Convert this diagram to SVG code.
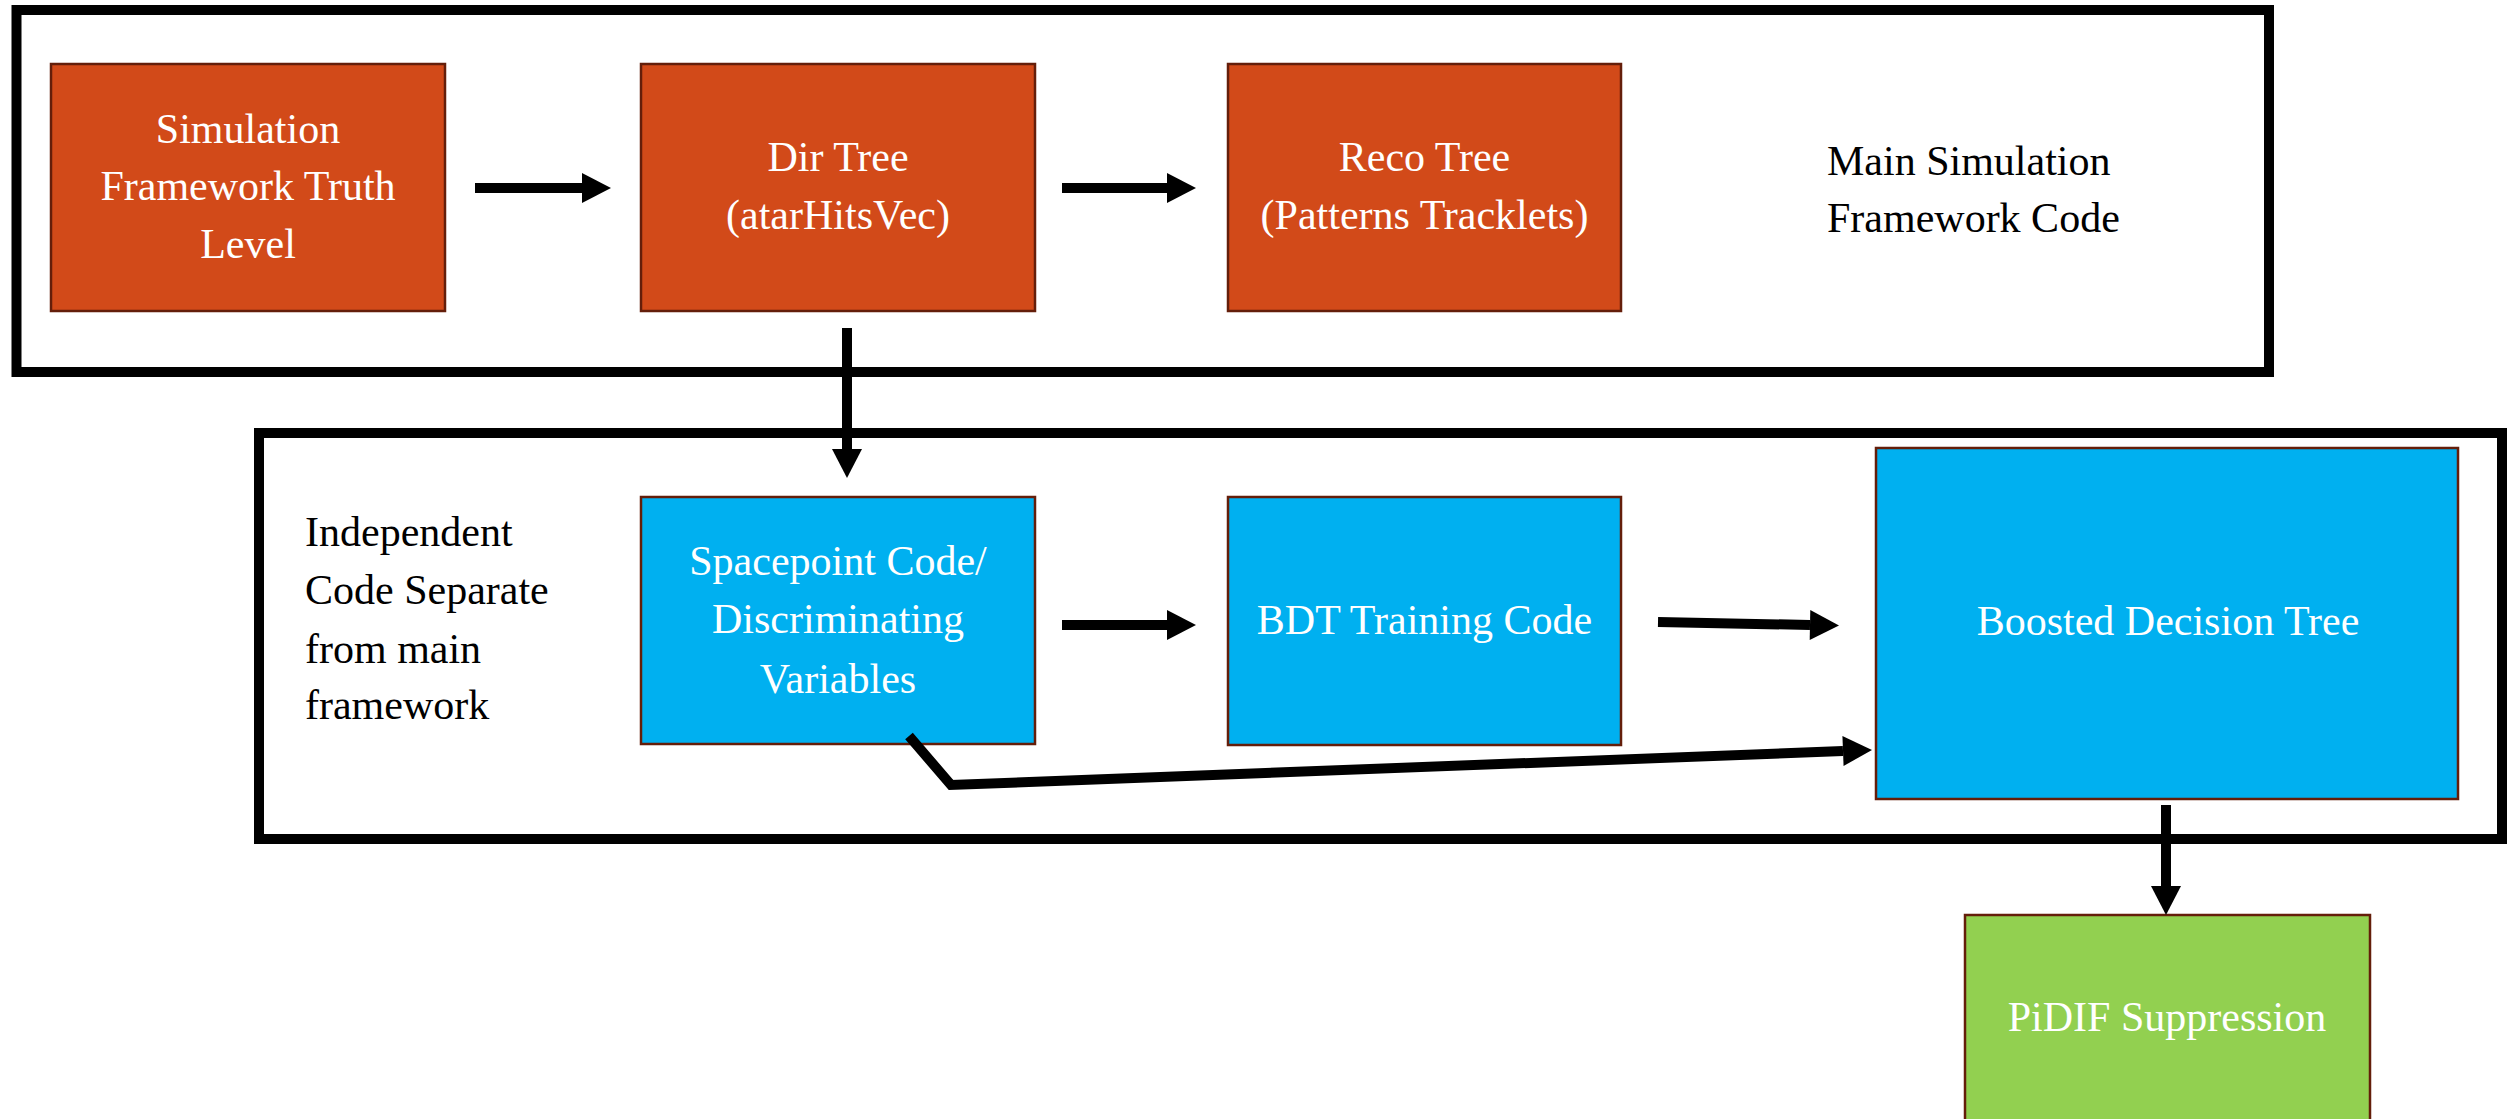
<svg xmlns="http://www.w3.org/2000/svg" width="2507" height="1119" viewBox="0 0 2507 1119">
  <style>
    .frame { fill: none; stroke: #000; stroke-width: 10; }
    .box { stroke: #641e0a; stroke-width: 2.5; }
    .orange { fill: #d24a19; }
    .blue { fill: #00b0f0; }
    .green { fill: #92d050; }
    .lbl { font-family: "Liberation Serif", "Times New Roman", serif; font-size: 42px; fill: #fff; text-anchor: middle; }
    .note { font-family: "Liberation Serif", "Times New Roman", serif; font-size: 42px; fill: #000; }
    .conn { fill: none; stroke: #000; stroke-width: 10; stroke-linejoin: miter; }
  </style>
  <defs>
    <marker id="head" markerUnits="userSpaceOnUse" markerWidth="30" markerHeight="30" refX="0" refY="15" orient="auto" overflow="visible">
      <path d="M0,0 L29,15 L0,30 z" fill="#000"/>
    </marker>
  </defs>

  <rect width="2507" height="1119" fill="#fff"/>

  <!-- grouping frames -->
  <g id="main-framework-frame">
    <rect class="frame" x="16.5" y="10" width="2252.5" height="362"/>
    <text class="note" x="1827" y="175">Main Simulation</text>
    <text class="note" x="1827" y="232">Framework Code</text>
  </g>
  <g id="independent-code-frame">
    <rect class="frame" x="259" y="433" width="2243" height="406"/>
    <text class="note" x="305" y="546">Independent</text>
    <text class="note" x="305" y="604">Code Separate</text>
    <text class="note" x="305" y="663">from main</text>
    <text class="note" x="305" y="719">framework</text>
  </g>

  <!-- nodes -->
  <g id="truth-level">
    <rect class="box orange" x="51" y="64" width="394" height="247"/>
    <text class="lbl" x="248" y="143">Simulation</text>
    <text class="lbl" x="248" y="200">Framework Truth</text>
    <text class="lbl" x="248" y="258">Level</text>
  </g>
  <g id="dir-tree">
    <rect class="box orange" x="641" y="64" width="394" height="247"/>
    <text class="lbl" x="838" y="171">Dir Tree</text>
    <text class="lbl" x="838" y="229">(atarHitsVec)</text>
  </g>
  <g id="reco-tree">
    <rect class="box orange" x="1228" y="64" width="393" height="247"/>
    <text class="lbl" x="1424.5" y="171">Reco Tree</text>
    <text class="lbl" x="1424.5" y="229">(Patterns Tracklets)</text>
  </g>
  <g id="spacepoint-code">
    <rect class="box blue" x="641" y="497" width="394" height="247"/>
    <text class="lbl" x="838" y="575">Spacepoint Code/</text>
    <text class="lbl" x="838" y="633">Discriminating</text>
    <text class="lbl" x="838" y="693">Variables</text>
  </g>
  <g id="bdt-training">
    <rect class="box blue" x="1228" y="497" width="393" height="248"/>
    <text class="lbl" x="1424.5" y="634">BDT Training Code</text>
  </g>
  <g id="boosted-decision-tree">
    <rect class="box blue" x="1876" y="448" width="582" height="351"/>
    <text class="lbl" x="2168" y="635">Boosted Decision Tree</text>
  </g>
  <g id="pidif-suppression">
    <rect class="box green" x="1965" y="915" width="405" height="220"/>
    <text class="lbl" x="2167" y="1031">PiDIF Suppression</text>
  </g>

  <!-- connectors -->
  <g id="connectors">
    <line class="conn" x1="475" y1="188" x2="582" y2="188" marker-end="url(#head)"/>
    <line class="conn" x1="1062" y1="188" x2="1167" y2="188" marker-end="url(#head)"/>
    <line class="conn" x1="847" y1="328" x2="847" y2="449" marker-end="url(#head)"/>
    <line class="conn" x1="1062" y1="625" x2="1167" y2="625" marker-end="url(#head)"/>
    <line class="conn" x1="1658" y1="622" x2="1810" y2="625" marker-end="url(#head)"/>
    <polyline class="conn" stroke-width="9" points="909,736 951,785 1843,751" marker-end="url(#head)"/>
    <line class="conn" stroke-width="9" x1="2166" y1="805" x2="2166" y2="886" marker-end="url(#head)"/>
  </g>
</svg>
